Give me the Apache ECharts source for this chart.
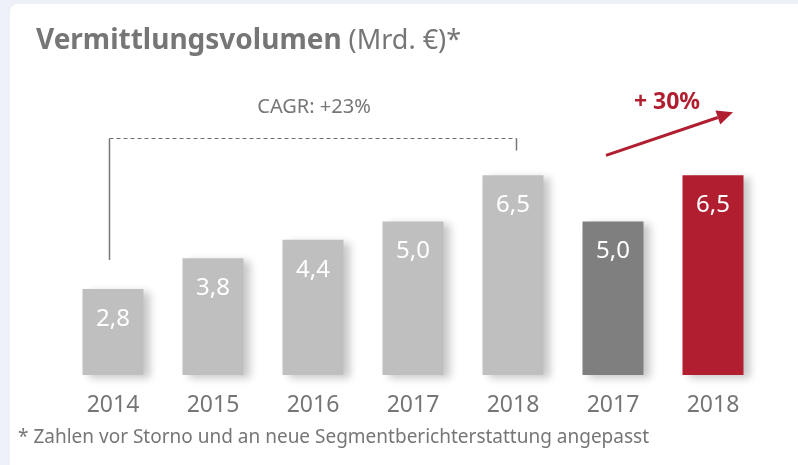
<!DOCTYPE html>
<html>
<head>
<meta charset="utf-8">
<script src="https://cdn.jsdelivr.net/npm/echarts@6/dist/echarts.min.js"></script>
<style>
  html, body { margin: 0; padding: 0; background: #edf0f6; }
  .card { position: absolute; left: 10px; top: 4px; width: 800px; height: 470px; background: #fff; border-radius: 8px; }
  #chart { position: absolute; left: 0; top: 0; width: 798px; height: 465px; }
</style>
</head>
<body>
<div class="card"></div>
<div id="chart"></div>
<script>
const categories = ['2014', '2015', '2016', '2017', '2018', '2017', '2018']
const values = [2.8, 3.8, 4.4, 5.0, 6.5, 5.0, 6.5]
const titleText = 'Vermittlungsvolumen'
const unitText = ' (Mrd. €)*'
const cagrText = 'CAGR: +23%'
const growthText = '+ 30%'
const footnote = '* Zahlen vor Storno und an neue Segmentberichterstattung angepasst'

const light = '#bfbfbf'
const dark = '#7f7f7f'
const red = '#b01e30'
const textGray = '#767676'
const font = 'Noto Sans'

const chart = echarts.init(document.getElementById('chart'))

chart.setOption({
  animation: false,
  textStyle: { fontFamily: font },
  grid: { left: 63, right: 35, top: 160, bottom: 90 },
  xAxis: {
    type: 'category',
    data: categories,
    axisLine: { show: false },
    axisTick: { show: false },
    axisLabel: { color: textGray, fontSize: 23, margin: 19, fontFamily: font }
  },
  yAxis: { type: 'value', min: 0, max: 7, show: false, splitLine: { show: false } },
  series: [{
    type: 'bar',
    data: values,
    barWidth: 61,
    itemStyle: {
      color: p => p.dataIndex === 5 ? dark : (p.dataIndex === 6 ? red : light),
      shadowColor: 'rgba(0,0,0,0.22)',
      shadowBlur: 8,
      shadowOffsetX: 6,
      shadowOffsetY: 3
    },
    label: {
      show: true,
      position: 'insideTop',
      distance: 18,
      color: '#fff',
      fontSize: 24,
      fontFamily: font,
      formatter: p => p.value.toFixed(1).replace('.', ',')
    }
  }]
})

// annotations positioned from the category axis
const px = i => chart.convertToPixel({ xAxisIndex: 0 }, i)
const py = v => chart.convertToPixel({ yAxisIndex: 0 }, v)
const x0 = Math.round(px(0) - 4) + 0.5
const x4 = Math.round(px(4) + 3) + 0.5
const bracketY = 138.5
const arrowX1 = px(5) - 7
const arrowX2 = px(6) + 20
const arrowY1 = py(values[4]) - 20
const arrowY2 = arrowY1 - 43
const ang = Math.atan2(arrowY2 - arrowY1, arrowX2 - arrowX1)
const hl = 16, hw = 7.5
const bx = arrowX2 - hl * Math.cos(ang), by = arrowY2 - hl * Math.sin(ang)

chart.setOption({
  graphic: [
    {
      id: 'title', type: 'text', left: 36, top: 27,
      style: {
        text: '{b|' + titleText + '}{n|' + unitText + '}',
        rich: {
          b: { fontSize: 28, fontWeight: 'bold', fill: textGray, fontFamily: font },
          n: { fontSize: 27, fill: textGray, fontFamily: font }
        }
      }
    },
    {
      id: 'foot', type: 'text', left: 18, top: 428,
      style: { text: footnote, fontSize: 19, fill: textGray, fontFamily: font }
    },
    {
      id: 'cagr', type: 'text', x: (x0 + x4) / 2 + 1, y: 107,
      style: { text: cagrText, fontSize: 20, fill: textGray, fontFamily: font, align: 'center', verticalAlign: 'middle' }
    },
    {
      id: 'bracketTop', type: 'line',
      shape: { x1: x0, y1: bracketY, x2: x4, y2: bracketY },
      style: { stroke: '#6f6f6f', lineWidth: 1, lineDash: [4, 3] }
    },
    {
      id: 'bracketLeft', type: 'line',
      shape: { x1: x0, y1: bracketY, x2: x0, y2: py(values[0]) - 29 },
      style: { stroke: '#777', lineWidth: 1.5 }
    },
    {
      id: 'bracketRight', type: 'line',
      shape: { x1: x4, y1: bracketY, x2: x4, y2: bracketY + 12 },
      style: { stroke: '#777', lineWidth: 1.5 }
    },
    {
      id: 'arrowLine', type: 'line',
      shape: { x1: arrowX1, y1: arrowY1, x2: bx, y2: by },
      style: { stroke: red, lineWidth: 3 }
    },
    {
      id: 'arrowHead', type: 'polygon',
      shape: {
        points: [
          [arrowX2, arrowY2],
          [bx + hw * Math.sin(ang), by - hw * Math.cos(ang)],
          [bx - hw * Math.sin(ang), by + hw * Math.cos(ang)]
        ]
      },
      style: { fill: red }
    },
    {
      id: 'growth', type: 'text', x: (px(5) + px(6)) / 2 + 4, y: 102,
      style: { text: growthText, fontSize: 23, fontWeight: 'bold', fill: red, fontFamily: font, align: 'center', verticalAlign: 'middle' }
    }
  ]
})
</script>
</body>
</html>
